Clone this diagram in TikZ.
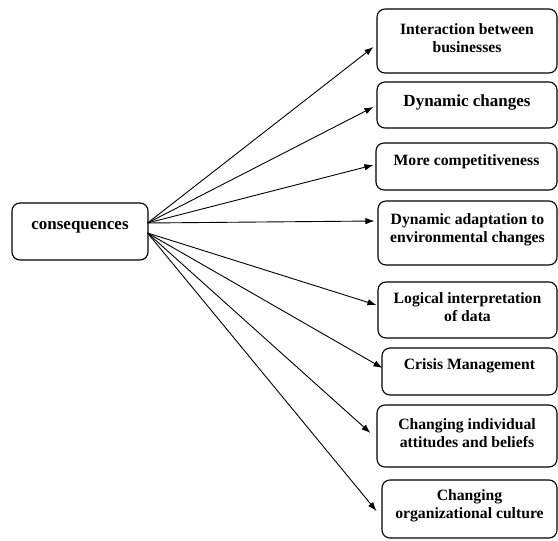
\documentclass[tikz,border=0pt]{standalone}
\usepackage{fontspec}
\setmainfont{Liberation Serif}
\usetikzlibrary{calc,arrows.meta}
\begin{document}
\begin{tikzpicture}[x=1pt,y=-1pt,
  box/.style={draw, line width=1.1pt, rounded corners=8pt, inner sep=0pt},
  txt/.style={align=center, inner sep=0pt, font=\bfseries\fontsize{15.7}{18.5}\selectfont},
  big/.style={font=\bfseries\fontsize{17}{20}\selectfont},
  conn/.style={line width=0.9pt, -{Latex[length=9pt,width=6.5pt]}}]
\useasboundingbox (0,0) rectangle (558,541);
\node[box, minimum width=136pt, minimum height=57pt] (cons) at (80,231.5) {};
\node[txt, big] (tc) at (80,227) {consequences};
\node[box, minimum width=180pt, minimum height=64pt] (b1) at (467,41) {};
\node[txt] (t1) at (467,38) {Interaction between\\businesses};
\node[box, minimum width=180pt, minimum height=46pt] (b2) at (467,105) {};
\node[txt, big] (t2) at (467,102) {Dynamic changes};
\node[box, minimum width=181pt, minimum height=47pt] (b3) at (466.5,166.5) {};
\node[txt] (t3) at (466.5,162) {More competitiveness};
\node[box, minimum width=179pt, minimum height=64pt] (b4) at (467.5,233) {};
\node[txt] (t4) at (467.5,230) {Dynamic adaptation to\\environmental changes};
\node[box, minimum width=179pt, minimum height=56pt] (b5) at (467.5,310) {};
\node[txt] (t5) at (467.5,307) {Logical interpretation\\of data};
\node[box, minimum width=175pt, minimum height=47pt] (b6) at (469.5,371.5) {};
\node[txt] (t6) at (469.5,366) {Crisis Management};
\node[box, minimum width=180pt, minimum height=62pt] (b7) at (467,436) {};
\node[txt] (t7) at (467,433) {Changing individual\\attitudes and beliefs};
\node[box, minimum width=175pt, minimum height=58pt] (b8) at (469.5,509) {};
\node[txt] (t8) at (469.5,506) {Changing\\organizational culture};
\coordinate (su) at ($(cons.east)+(-1,-8.5)$);
\coordinate (sl) at ($(cons.east)+(-1,1.5)$);
\draw[conn] (su) -- ($(b1.west)+(-3,6)$);
\draw[conn] (su) -- ($(b2.west)+(-3,2)$);
\draw[conn] (su) -- ($(b3.west)+(-2,-1.5)$);
\draw[conn] (su) -- ($(b4.west)+(-3,-12)$);
\draw[conn] (sl) -- ($(b5.west)+(-1,-5)$);
\draw[conn] (sl) -- ($(b6.west)+(1,-3.5)$);
\draw[conn] (sl) -- ($(b7.west)+(-6,-3)$);
\draw[conn] (sl) -- ($(b8.west)+(-5,2)$);
\end{tikzpicture}
\end{document}
